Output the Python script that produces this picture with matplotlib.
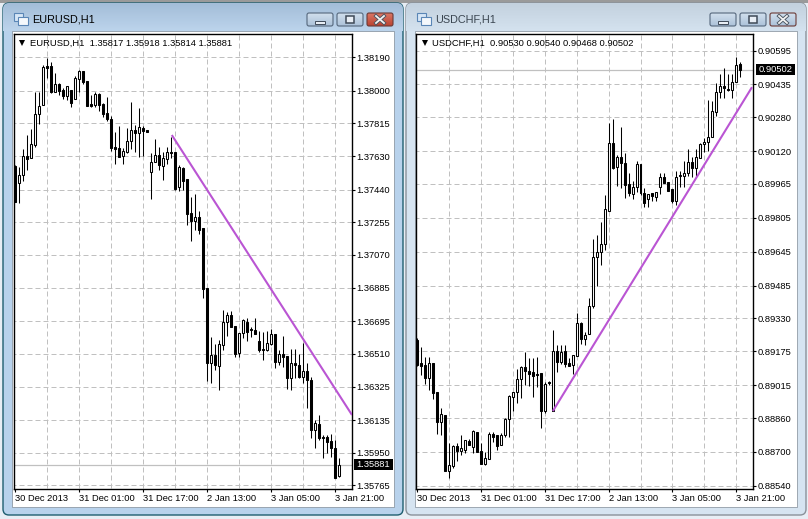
import numpy as np
import matplotlib
matplotlib.use('Agg')
import matplotlib.pyplot as plt
from matplotlib.patches import FancyBboxPatch, Rectangle

plt.rcParams['font.family'] = ['Liberation Sans', 'DejaVu Sans']

# prices in points (1e-5)
eur_open = [137573,137477,137522,137630,137619,137692,137868,137919,138139,138139,
137992,138038,138004,137970,138004,137953,138066,138111,138055,137924,
137919,137981,137924,137873,137839,137681,137675,137630,137653,137715,
137777,137760,137788,137777,137539,137596,137636,137573,137613,137653,
137653,137455,137562,137500,137307,137262,137285,137223,136883,136458,
136504,136441,136560,136690,136730,136668,136515,136628,136690,136651,
136645,136583,136538,136532,136566,136623,136464,136509,136498,136374,
136458,136447,136379,136413,136362,136079,136113,136040,136040,136017,
135977,135817]
eur_high = [137579,137568,137670,137749,137783,137992,137992,138145,138185,138162,
138100,138043,138015,138026,138004,138083,138117,138111,138055,137975,
137992,137987,137930,137964,137856,137766,137800,137675,137788,137936,
137806,137902,137800,137777,137647,137726,137681,137653,137681,137738,
137653,137579,137568,137500,137398,137415,137319,137223,136883,136606,
136566,136589,136758,136747,136753,136668,136628,136707,136713,136662,
136713,136640,136634,136640,136651,136623,136532,136611,136498,136538,
136538,136509,136572,136458,136379,136136,136164,136051,136051,136057,
136023,135918]
eur_low = [137370,137364,137489,137551,137619,137681,137811,137919,138071,137987,
137992,137975,137953,137947,137907,137953,137992,138038,137913,137907,
137907,137885,137851,137828,137658,137585,137624,137585,137647,137670,
137653,137624,137630,137766,137387,137596,137551,137494,137585,137619,
137438,137432,137438,137240,137149,137211,137189,136826,136357,136345,
136419,136306,136532,136611,136662,136492,136492,136600,136583,136606,
136623,136521,136475,136526,136560,136430,136447,136436,136311,136306,
136374,136374,136345,136204,136034,135977,136023,135921,135949,135926,
135808,135814]
eur_close = [137370,137522,137630,137613,137698,137868,137913,138134,138128,137992,
138038,137998,137970,138026,137930,138071,138111,138049,137913,137913,
137981,137919,137868,137839,137675,137670,137624,137658,137715,137777,
137760,137794,137771,137766,137596,137636,137579,137619,137653,137647,
137443,137568,137489,137302,137262,137285,137211,136877,136458,136504,
136447,136566,136690,136730,136662,136509,136628,136702,136634,136645,
136623,136532,136532,136572,136623,136464,136509,136492,136374,136458,
136447,136379,136413,136362,136079,136119,136034,136034,136011,135977,
135808,135881]

chf_open = [89228,89120,89110,89049,89120,88983,88841,88874,88610,88634,
88728,88704,88709,88751,88723,88794,88704,88643,88667,88785,
88780,88733,88780,88855,88959,88983,89044,89101,89082,89077,
89068,89072,88893,89030,88893,89176,89124,89176,89120,89110,
89153,89308,89233,89257,89389,89620,89644,89681,89837,90158,
90045,90092,90064,89965,89917,89950,90059,89922,89894,89922,
89903,89950,89998,89974,89941,89884,90002,90002,90016,90068,
90040,90087,90153,90163,90186,90304,90399,90427,90413,90408,
90446,90530]
chf_high = [89238,89195,89148,89148,89120,88983,88907,88874,88742,88733,
88742,88780,88756,88761,88803,88794,88742,88700,88794,88794,
88780,88789,88860,88969,88983,89091,89105,89172,89143,89143,
89148,89072,89030,89035,89275,89205,89205,89205,89143,89157,
89356,89313,89266,89426,89705,89724,89785,89913,90252,90271,
90101,90234,90111,90016,89979,90073,90059,89946,89917,89922,
89927,90016,90016,89974,89941,90026,90026,90073,90130,90092,
90130,90158,90182,90361,90356,90441,90484,90512,90484,90484,
90564,90540]
chf_low = [89105,89063,89021,88992,88950,88785,88780,88610,88577,88624,
88657,88685,88695,88733,88695,88700,88643,88638,88667,88747,
88709,88733,88770,88770,88893,88931,88954,89016,89011,88959,
89006,88813,88884,89016,88893,89077,89115,89101,89105,89068,
89153,89209,89205,89257,89379,89483,89582,89653,89837,90035,
89955,89946,89898,89908,89894,89927,89913,89856,89856,89884,
89884,89917,89969,89932,89875,89865,89950,89950,90002,89998,
90002,90087,90116,90120,90186,90285,90370,90370,90403,90370,
90446,90468]
chf_close = [89110,89105,89049,89120,88978,88841,88879,88610,88638,88728,
88704,88718,88756,88733,88799,88700,88643,88671,88785,88770,
88728,88780,88855,88964,88983,89044,89101,89082,89068,89058,
89063,88893,89021,89025,89176,89124,89172,89115,89105,89157,
89308,89233,89252,89389,89620,89644,89681,89847,90158,90040,
90092,90064,89960,89922,89950,90059,89922,89875,89917,89908,
89927,89998,89969,89932,89884,89998,90007,90016,90068,90040,
90092,90153,90163,90186,90309,90399,90427,90418,90408,90446,
90526,90502]

eur_ticks = ['1.38190','1.38000','1.37815','1.37630','1.37440','1.37255','1.37070',
             '1.36885','1.36695','1.36510','1.36325','1.36135','1.35950','1.35765']
chf_ticks = ['0.90595','0.90435','0.90280','0.90120','0.89965','0.89805','0.89645',
             '0.89485','0.89330','0.89175','0.89015','0.88860','0.88700','0.88540']
date_labels = ['30 Dec 2013','31 Dec 01:00','31 Dec 17:00','2 Jan 13:00','3 Jan 05:00','3 Jan 21:00']

eur_trend_x = [39.2, 84.25]
eur_trend_y = [137749, 136164]
chf_trend_x = [34, 84]
chf_trend_y = [88893, 90422]

W, H = 808, 519
PURPLE = '#ba55d3'
GRID = '#c0c0c0'
SMALL = 6.75
DASH = (0, (5, 3))

fig = plt.figure(figsize=(W/100, H/100), dpi=100, facecolor='#f0f0f0')

# window frames, in pixels
bg = fig.add_axes([0, 0, 1, 1])
bg.set_xlim(0, W)
bg.set_ylim(H, 0)
bg.axis('off')


def button(x, y, w, h, top, bottom, edge, glyph):
    grad = np.linspace(0, 1, 20)[:, None, None]
    c0 = np.array(matplotlib.colors.to_rgb(top))
    c1 = np.array(matplotlib.colors.to_rgb(bottom))
    im = bg.imshow(c0 + (c1 - c0)*grad, extent=(x, x+w, y+h, y), aspect='auto', zorder=3)
    box = FancyBboxPatch((x+1, y+1), w-2, h-2, boxstyle='round,pad=0,rounding_size=2',
                         fc='none', ec=edge, lw=0.8, zorder=4)
    bg.add_patch(box)
    im.set_clip_path(box)
    cx, cy = x + w/2, y + h/2
    if glyph == 'min':
        bg.add_patch(Rectangle((cx-5, cy+1), 10, 3, fc='#e8eef5', ec='#3f4a58', lw=0.7, zorder=5))
    elif glyph == 'max':
        bg.add_patch(Rectangle((cx-4, cy-4), 8, 7, fc='#e8eef5', ec='#3f4a58', lw=1.1, zorder=5))
    else:
        bg.plot([cx-4, cx+4], [cy-3.5, cy+3.5], color='#4a5561', lw=2.6, zorder=5)
        bg.plot([cx-4, cx+4], [cy+3.5, cy-3.5], color='#4a5561', lw=2.6, zorder=5)
        bg.plot([cx-4, cx+4], [cy-3.5, cy+3.5], color='#f2f2f2', lw=1.3, zorder=6)
        bg.plot([cx-4, cx+4], [cy+3.5, cy-3.5], color='#f2f2f2', lw=1.3, zorder=6)


def window(x0, x1, title, top, bottom, side, edge, close_top, close_bottom, text_color):
    grad = np.linspace(0, 1, 40)[:, None, None]
    c0 = np.array(matplotlib.colors.to_rgb(top))
    c1 = np.array(matplotlib.colors.to_rgb(bottom))
    frame = FancyBboxPatch((x0, 3), x1-x0, 512, boxstyle='round,pad=0,rounding_size=6',
                           fc=side, ec=edge, lw=1.0, zorder=1)
    bg.add_patch(frame)
    im = bg.imshow(c0 + (c1 - c0)*grad, extent=(x0, x1, 31, 3), aspect='auto', zorder=1.5)
    im.set_clip_path(frame)
    # client area
    bg.add_patch(Rectangle((x0+9, 31), x1-x0-18, 476, fc='white', ec='#7f8a96', lw=0.5, zorder=2))
    # little window icon
    bg.add_patch(Rectangle((x0+11, 13), 9, 8, fc='#d6e6f6', ec='#5a86b6', lw=0.8, zorder=2))
    bg.add_patch(Rectangle((x0+15, 17), 10, 8, fc='#f4f8fc', ec='#5a86b6', lw=0.8, zorder=2))
    bg.text(x0+29, 20, title, fontsize=7.8, color=text_color, va='center', ha='left', zorder=3)
    button(x1-97, 12, 28, 15, '#d4e1ee', '#a9c0d8', '#55677c', 'min')
    button(x1-67, 12, 28, 15, '#d4e1ee', '#a9c0d8', '#55677c', 'max')
    button(x1-37, 12, 28, 15, close_top, close_bottom, '#6b3a36', 'close')


bg.add_patch(Rectangle((0, 0), W, H, fc='#e8eef5', ec='none', zorder=0))
bg.add_patch(Rectangle((0, 0), W, 3, fc='#9a9a9a', ec='none', zorder=0.5))
window(3, 403, 'EURUSD,H1', '#a3bdd8', '#bcd4ec', '#b8d2ec', '#1f5f70', '#dd7a68', '#b8402f', 'black')
window(406, 806, 'USDCHF,H1', '#c3d1de', '#d4e2ef', '#d6e4f1', '#8a929a', '#d4e1ee', '#a9c0d8', '#3a4550')


def chart(x0, x1, o, h, l, c, ticks, ylim, trend_x, trend_y, header, last, box_x):
    y0, y1 = 34, 489
    ax = fig.add_axes([x0/W, 1 - y1/H, (x1-x0)/W, (y1-y0)/H])
    ax.patch.set_alpha(0)
    o, h, l, c = [np.array(v)/1e5 for v in (o, h, l, c)]
    idx = np.arange(len(o))
    ax.set_xlim(-0.25, 84.25)
    ax.set_ylim(ylim[0]/1e5, ylim[1]/1e5)

    tick_vals = [float(t) for t in ticks]
    ax.hlines(tick_vals, -1, 85, color=GRID, lw=0.72, linestyles=DASH, zorder=1)
    ax.vlines(np.arange(8, 84, 8), 0, 2, color=GRID, lw=0.72, linestyles=DASH, zorder=1)
    ax.axhline(last, color=GRID, lw=0.9, zorder=1.5)

    ax.vlines(idx, l, h, color='black', lw=0.75, zorder=2, snap=True)
    up = c >= o
    ax.bar(idx[up], (c-o)[up], bottom=o[up], width=0.5, fc='white', ec='black', lw=0.75, zorder=3)
    ax.bar(idx[~up], (c-o)[~up], bottom=o[~up], width=0.5, fc='black', ec='black', lw=0.75, zorder=3)

    ax.plot(trend_x, np.array(trend_y)/1e5, color=PURPLE, lw=1.5, zorder=4, solid_capstyle='butt')

    ax.yaxis.tick_right()
    ax.set_yticks(tick_vals)
    ax.set_yticklabels(ticks, fontsize=SMALL)
    ax.set_xticks(np.arange(0, 84, 16))
    ax.set_xticklabels(date_labels, fontsize=SMALL, ha='left')
    ax.tick_params(axis='both', direction='out', length=2.2, width=0.8, color='black', pad=1.2)
    for s in ax.spines.values():
        s.set_linewidth(1.0)

    # header and current price tag
    ax.text(0.046, 0.9805, header, transform=ax.transAxes, fontsize=SMALL, va='center', ha='left')
    ax.plot([0.024], [0.9805], marker='v', color='black', ms=4.2, mew=0, transform=ax.transAxes, zorder=5)
    ypix = y0 + (ylim[1]/1e5 - last)/(ylim[1]/1e5 - ylim[0]/1e5)*(y1-y0)
    bg.add_patch(Rectangle((box_x, ypix-6), 39, 11, fc='black', ec='none', zorder=3))
    bg.text(box_x+19.5, ypix-0.5, '%.5f' % last, color='white', fontsize=SMALL, ha='center', va='center', zorder=4)
    return ax


chart(14, 352, eur_open, eur_high, eur_low, eur_close, eur_ticks, (135745, 138321),
      eur_trend_x, eur_trend_y, 'EURUSD,H1  1.35817 1.35918 1.35814 1.35881', 1.35881, 354)
chart(416.5, 753, chf_open, chf_high, chf_low, chf_close, chf_ticks, (88525, 90673),
      chf_trend_x, chf_trend_y, 'USDCHF,H1  0.90530 0.90540 0.90468 0.90502', 0.90502, 756)

bg.set_xlim(0, W)
bg.set_ylim(H, 0)
fig.savefig('out.png', dpi=100, facecolor=fig.get_facecolor())
